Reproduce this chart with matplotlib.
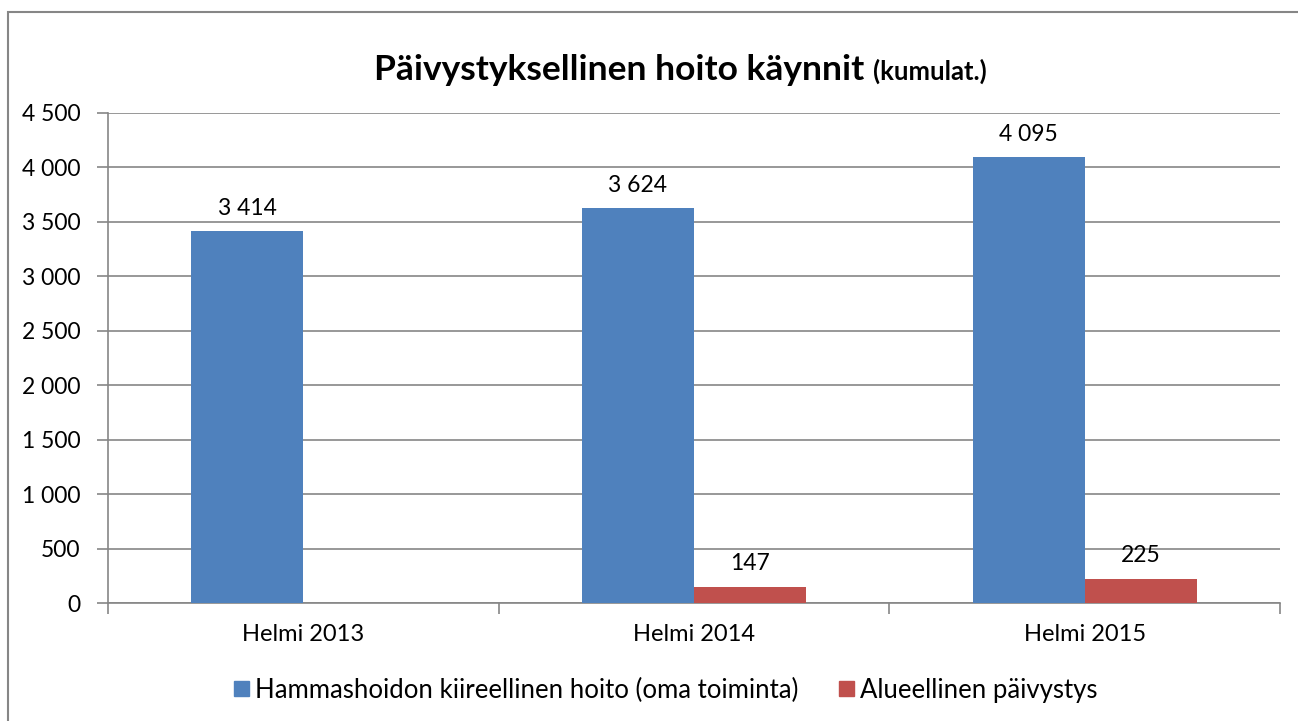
import numpy as np
import matplotlib
matplotlib.use("Agg")
import matplotlib.pyplot as plt
from matplotlib.patches import Rectangle, Patch

# DATA
categories = ["Helmi 2013", "Helmi 2014", "Helmi 2015"]
series_names = ["Hammashoidon kiireellinen hoito (oma toiminta)", "Alueellinen päivystys"]
oma_toiminta = [3414, 3624, 4095]
alueellinen = [np.nan, 147, 225]
y_ticks = [0, 500, 1000, 1500, 2000, 2500, 3000, 3500, 4000, 4500]

BLUE = "#4F81BD"
RED = "#C0504D"
GRID = "#868686"
FS = 16.5

plt.rcParams["font.family"] = ["Lato", "DejaVu Sans"]


def fmt(v):
    return f"{int(round(v)):,}".replace(",", " ")


W, H = 1298, 721
fig = plt.figure(figsize=(W / 100, H / 100), dpi=100)
ax = fig.add_axes([108 / W, 1 - 603 / H, (1280 - 108) / W, (603 - 113) / H])

x = np.arange(len(categories))
bw = 0.287
ax.bar(x - bw / 2, oma_toiminta, width=bw, color=BLUE, zorder=3)
ax.bar(x + bw / 2, alueellinen, width=bw, color=RED, zorder=3)

# value labels
for xi, v in zip(x - bw / 2, oma_toiminta):
    ax.annotate(fmt(v), (xi, v), xytext=(0, 9), textcoords="offset points",
                ha="center", va="bottom", fontsize=FS)
for xi, v in zip(x + bw / 2, alueellinen):
    if np.isnan(v):
        continue
    ax.annotate(fmt(v), (xi, v), xytext=(0, 9), textcoords="offset points",
                ha="center", va="bottom", fontsize=FS)

ax.set_xlim(-0.5, len(categories) - 0.5)
ax.set_ylim(0, 4500)
ax.set_yticks(y_ticks)
ax.set_yticklabels([fmt(t) for t in y_ticks], fontsize=FS)
ax.yaxis.grid(True, color=GRID, linewidth=1.2, zorder=0)
ax.tick_params(axis="y", length=8, width=1.2, color=GRID, pad=12, direction="out")

# category labels between boundary ticks
ax.set_xticks(np.arange(len(categories) + 1) - 0.5)
ax.set_xticklabels([])
ax.tick_params(axis="x", length=8, width=1.2, color=GRID, direction="out")
for xi, c in zip(x, categories):
    ax.text(xi, -0.043, c, transform=ax.get_xaxis_transform(),
            ha="center", va="top", fontsize=17)

for s in ["top", "right"]:
    ax.spines[s].set_visible(False)
for s in ["left", "bottom"]:
    ax.spines[s].set_color(GRID)
    ax.spines[s].set_linewidth(1.2)

# title in two parts
t1 = fig.text(0.5, 0.5, "Päivystyksellinen hoito käynnit ", fontsize=25.5,
              fontweight="bold", ha="left", va="baseline")
t2 = fig.text(0.5, 0.5, "(kumulat.)", fontsize=18.5, fontweight="bold",
              ha="left", va="baseline")
r = fig.canvas.get_renderer()
w1 = t1.get_window_extent(r).width
w2 = t2.get_window_extent(r).width
left = 680 - (w1 + w2) / 2
base = 1 - 80 / H
t1.set_position((left / W, base))
t2.set_position(((left + w1) / W, base))

handles = [Patch(color=BLUE), Patch(color=RED)]
fig.legend(handles, series_names, loc="center", bbox_to_anchor=(666 / W, 1 - 690 / H),
           ncol=2, frameon=False, fontsize=18.5, handlelength=0.55, handleheight=0.55,
           handletextpad=0.25, columnspacing=1.6)

# chart frame
fig.patches.append(Rectangle((8 / W, -0.1), 1.2, 1 - 12 / H + 0.1, transform=fig.transFigure,
                             fill=False, edgecolor=GRID, linewidth=1.5))

fig.savefig("out.png", dpi=100)
